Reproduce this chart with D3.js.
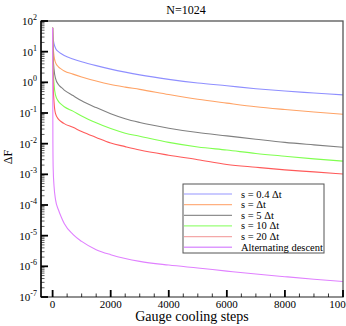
<!DOCTYPE html>
<html>
<head>
<meta charset="utf-8">
<script src="https://cdn.jsdelivr.net/npm/d3@7"></script>
<style>
  body { margin: 0; background: #fff; }
  svg text { font-family: "Liberation Serif", "DejaVu Serif", serif; fill: #000; }
</style>
</head>
<body>
<div id="chart"></div>
<script>
// chart data
const steps = [0, 10, 20, 50, 100, 200, 300, 400, 700, 1000, 1500, 2000, 2500, 3000, 4000, 5000, 6000, 7000, 8000, 9000, 10000];
const s04 = [60, 35, 27, 18, 13, 10, 8.6, 7.5, 5.8, 4.7, 3.5, 2.7, 2.15, 1.75, 1.25, 0.95, 0.77, 0.62, 0.52, 0.45, 0.39];
const s1 = [60, 25, 15, 7, 4.4, 3.2, 2.7, 2.35, 1.85, 1.5, 1.1, 0.85, 0.7, 0.59, 0.4, 0.28, 0.21, 0.16, 0.13, 0.108, 0.091];
const s5 = [60, 15, 7, 2.6, 1.35, 0.85, 0.68, 0.56, 0.37, 0.25, 0.15, 0.095, 0.065, 0.049, 0.032, 0.023, 0.018, 0.014, 0.011, 0.0091, 0.0076];
const s10 = [60, 8, 3, 0.85, 0.38, 0.24, 0.19, 0.16, 0.115, 0.08, 0.048, 0.031, 0.022, 0.0175, 0.011, 0.0078, 0.0062, 0.0048, 0.0039, 0.0032, 0.0027];
const s20 = [60, 3, 0.8, 0.22, 0.095, 0.063, 0.052, 0.045, 0.034, 0.025, 0.016, 0.0105, 0.008, 0.0062, 0.0042, 0.003, 0.0021, 0.0017, 0.0014, 0.0012, 0.00102];
const altDescent = [60, 0.01, 1.5e-3, 4e-4, 1.5e-4, 7e-5, 4e-5, 2.5e-5, 1.1e-5, 6.5e-6, 3.5e-6, 2.4e-6, 1.8e-6, 1.45e-6, 1.1e-6, 8.8e-7, 7e-7, 5.6e-7, 4.6e-7, 3.8e-7, 3.2e-7];

const seriesNames = ["s = 0.4 \u0394t", "s = \u0394t", "s = 5 \u0394t", "s = 10 \u0394t", "s = 20 \u0394t", "Alternating descent"];
const seriesValues = [s04, s1, s5, s10, s20, altDescent];
const seriesColors = ["#8f8fff", "#ffa366", "#808080", "#80ff50", "#ff5a5a", "#e080ff"];
const legendColors = ["#b8b8ff", "#ffb080", "#909090", "#99ff77", "#f4a8a8", "#dd99ff"];

const xTicks = [0, 2000, 4000, 6000, 8000, 10000];
const yDecades = [-7, -6, -5, -4, -3, -2, -1, 0, 1, 2];

const width = 346, height = 326;
const plotL = 41, plotR = 343, plotT = 21, plotB = 297;

const svg = d3.select("#chart")
  .append("svg")
  .attr("width", width)
  .attr("height", height);

const x = d3.scaleLinear().domain([-400, 10000]).range([plotL, plotR]);
const y = d3.scaleLog().domain([1e-7, 1e2]).range([plotB, plotT]);

svg.append("clipPath").attr("id", "plotclip")
  .append("rect")
  .attr("x", plotL).attr("y", plotT)
  .attr("width", plotR - plotL).attr("height", plotB - plotT);

// curves
const line = d3.line()
  .x(function(d, i) { return x(steps[i]); })
  .y(function(d) { return y(d); })
  .curve(d3.curveMonotoneX);

const curves = svg.append("g").attr("clip-path", "url(#plotclip)");
seriesValues.forEach(function(vals, k) {
  curves.append("path")
    .datum(vals)
    .attr("d", line)
    .attr("fill", "none")
    .attr("stroke", seriesColors[k])
    .attr("stroke-width", 1.1);
});

// frame
svg.append("rect")
  .attr("x", plotL).attr("y", plotT)
  .attr("width", plotR - plotL).attr("height", plotB - plotT)
  .attr("fill", "none")
  .attr("stroke", "#555")
  .attr("stroke-width", 1.3);

// y ticks (inside, log minor)
const yt = svg.append("g");
yDecades.forEach(function(p) {
  const v = Math.pow(10, p);
  yt.append("line")
    .attr("x1", plotL).attr("x2", plotL + 7)
    .attr("y1", y(v)).attr("y2", y(v))
    .attr("stroke", "#000").attr("stroke-width", 1.8);
  if (p < 2) {
    for (let m = 2; m <= 9; m++) {
      yt.append("line")
        .attr("x1", plotL).attr("x2", plotL + 3.5)
        .attr("y1", y(m * v)).attr("y2", y(m * v))
        .attr("stroke", "#333").attr("stroke-width", 0.8);
    }
  }
  const lab = yt.append("text")
    .attr("x", 37).attr("y", y(v) + 4)
    .attr("text-anchor", "end")
    .style("font-size", "11px");
  lab.append("tspan").text("10");
  lab.append("tspan").attr("dy", -5).style("font-size", "8px").text(p);
});
svg.append("line")
  .attr("x1", plotL).attr("x2", plotL)
  .attr("y1", plotT).attr("y2", plotB)
  .attr("stroke", "#000").attr("stroke-width", 1.4);

// x ticks
const xt = svg.append("g");
d3.range(0, 10001, 500).forEach(function(s) {
  const major = s % 2000 === 0;
  xt.append("line")
    .attr("x1", x(s)).attr("x2", x(s))
    .attr("y1", plotB).attr("y2", plotB - (major ? 7 : 3.5))
    .attr("stroke", "#000").attr("stroke-width", major ? 1.8 : 0.8);
});
xTicks.forEach(function(s) {
  xt.append("text")
    .attr("x", x(s)).attr("y", 308)
    .attr("text-anchor", "middle")
    .style("font-size", "11px")
    .text(s);
});

// titles
svg.append("text")
  .attr("x", 186).attr("y", 14)
  .attr("text-anchor", "middle")
  .style("font-size", "12px")
  .text("N=1024");

svg.append("text")
  .attr("x", 192).attr("y", 321)
  .attr("text-anchor", "middle")
  .style("font-size", "14px")
  .text("Gauge cooling steps");

svg.append("text")
  .attr("transform", "translate(12,157) rotate(-90)")
  .attr("text-anchor", "middle")
  .style("font-size", "12px")
  .text("\u0394F");

// legend
const lg = svg.append("g");
lg.append("rect")
  .attr("x", 183).attr("y", 184)
  .attr("width", 141).attr("height", 69)
  .attr("fill", "#fff")
  .attr("stroke", "#555").attr("stroke-width", 1);
seriesNames.forEach(function(name, k) {
  const ly = 194 + k * 10.65;
  lg.append("line")
    .attr("x1", 184).attr("x2", 232)
    .attr("y1", ly).attr("y2", ly)
    .attr("stroke", legendColors[k]).attr("stroke-width", 1.3);
  lg.append("text")
    .attr("x", 241).attr("y", ly + 3.5)
    .style("font-size", "10.5px")
    .text(name);
});
</script>
</body>
</html>
